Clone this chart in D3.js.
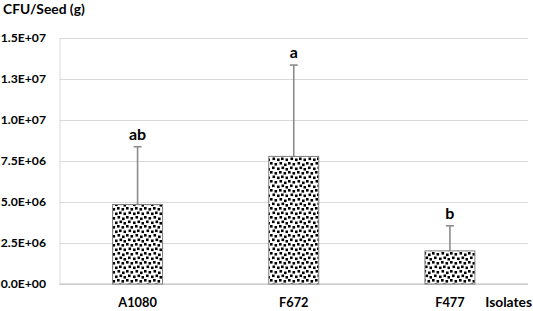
<!DOCTYPE html>
<html><head><meta charset="utf-8">
<script src="https://cdn.jsdelivr.net/npm/d3@7"></script>
<style>body{margin:0;background:#fff}svg{display:block}text{font-family:Lato,"Open Sans",sans-serif;font-weight:bold;fill:#000}</style>
</head><body>
<script>
const categories = ["A1080", "F672", "F477"];
const means = [4.85e6, 7.78e6, 2.02e6];
const errors = [3.52e6, 5.57e6, 1.53e6];
const letters = ["ab", "a", "b"];
const yTicks = [0, 2.5e6, 5e6, 7.5e6, 1e7, 1.25e7, 1.5e7];

const W = 533, H = 311;
const m = {left: 59.5, right: 5, top: 38, bottom: 27};
const svg = d3.select("body").append("svg").attr("width", W).attr("height", H);

const defs = svg.append("defs");
const pat = defs.append("pattern").attr("id", "dots").attr("patternUnits", "userSpaceOnUse")
  .attr("width", 18).attr("height", 18);
pat.append("rect").attr("width", 18).attr("height", 18).attr("fill", "#fff");
[[0,0],[4.5,1],[9.5,0],[14,1.5],[2,4.5],[7,5.5],[11.5,4.5],[15.5,6],[0,9],[4.5,10],[9,9],[13.5,10],[2.5,13.5],[7,14.5],[11,13.5],[15.5,14.5]].forEach(([x,y])=>{
  pat.append("rect").attr("x", x).attr("y", y).attr("width", 2.6).attr("height", 2.6).attr("fill", "#000");
});

const x = d3.scaleBand().domain(categories).range([m.left, W - m.right]).paddingInner(0.68).paddingOuter(0.34);
const y = d3.scaleLinear().domain([0, 1.5e7]).range([H - m.bottom, m.top]);

const fmt = v => {
  const s = v.toExponential(1).split("e");
  const e = parseInt(s[1]);
  return s[0] + "E" + (e < 0 ? "-" : "+") + String(Math.abs(e)).padStart(2, "0");
};

const yAxis = d3.axisLeft(y).tickValues(yTicks).tickSize(-(W - m.right - m.left)).tickFormat(fmt).tickPadding(13.5);
const ga = svg.append("g").attr("transform", `translate(${m.left},0)`).call(yAxis);
ga.select(".domain").attr("stroke", "#d9d9d9");
ga.selectAll(".tick line").attr("stroke", "#d9d9d9").attr("stroke-width", 1.2);
ga.selectAll(".tick text").attr("font-size", 12.2).attr("font-family", "Lato").attr("font-weight", "bold").attr("fill", "#000");

svg.append("line").attr("x1", m.left).attr("x2", W - m.right).attr("y1", y(0)).attr("y2", y(0))
  .attr("stroke", "#bfbfbf").attr("stroke-width", 1.2);

const cx = i => x(categories[i]) + x.bandwidth() / 2;
categories.forEach((c, i) => {
  const g = svg.append("g");
  g.append("line").attr("x1", cx(i)).attr("x2", cx(i)).attr("y1", y(means[i])).attr("y2", y(means[i] + errors[i]))
    .attr("stroke", "#8c8c8c").attr("stroke-width", 1.6);
  g.append("line").attr("x1", cx(i) - 4).attr("x2", cx(i) + 4).attr("y1", y(means[i] + errors[i])).attr("y2", y(means[i] + errors[i]))
    .attr("stroke", "#8c8c8c").attr("stroke-width", 1.6);
  svg.append("text").attr("x", cx(i)).attr("y", y(means[i] + errors[i]) - 7)
    .attr("text-anchor", "middle").attr("font-size", 16).text(letters[i]);
});

svg.selectAll(".bar").data(categories).enter().append("rect")
  .attr("x", d => x(d)).attr("width", x.bandwidth())
  .attr("y", (d, i) => y(means[i])).attr("height", (d, i) => y(0) - y(means[i]))
  .attr("fill", "url(#dots)").attr("stroke", "#808080").attr("stroke-width", 1);

categories.forEach((c, i) => {
  svg.append("text").attr("x", cx(i)).attr("y", 307).attr("text-anchor", "middle").attr("font-size", 12.8).text(c);
});
svg.append("text").attr("x", 532).attr("y", 307).attr("text-anchor", "end").attr("font-size", 13.8).text("Isolates");
svg.append("text").attr("x", 3).attr("y", 14).attr("font-size", 13.8).text("CFU/Seed (g)");
</script>
</body></html>
